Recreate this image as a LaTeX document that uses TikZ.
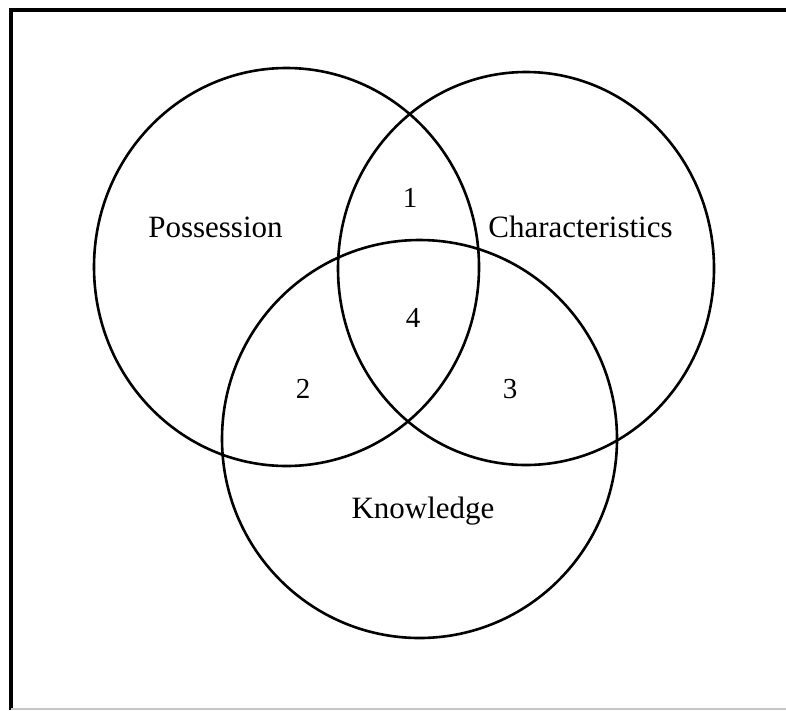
\documentclass[tikz,border=0pt]{standalone}
\usepackage{fontspec}
\setmainfont{Liberation Serif}
\usetikzlibrary{calc}
\newcommand\vset[5]{
  \draw[line width=2.6pt] (#1,#2) ellipse [x radius=#3pt, y radius=#4pt];
  \coordinate (#5) at (#1,#2);
}
\tikzset{
  lbl/.style={font=\fontsize{31}{36}\selectfont, anchor=base, inner sep=0pt},
  num/.style={font=\fontsize{29}{34}\selectfont, anchor=base, inner sep=0pt}
}

\begin{document}
\begin{tikzpicture}[x=1pt,y=-1pt]
\useasboundingbox (0,0) rectangle (786,710);

% frame
\draw[line width=3.2pt] (11,710) -- (11,10) -- (786,10);
\draw[gray!45, line width=2pt] (11,708.5) -- (786,708.5);

\vset{286.5}{267}{192.5}{199}{poss}
\vset{526}{268.5}{188}{196.5}{char}
\vset{419.5}{439}{197.5}{199}{know}

\node[lbl] (possession) at (215.5,237) {Possession};
\node[lbl] (characteristics) at (580.5,237) {Characteristics};
\node[lbl] (knowledge) at (423,518) {Knowledge};

\node[num] (one) at (410,207) {1};
\node[num] (four) at (413,327) {4};
\node[num] (two) at (303,398) {2};
\node[num] (three) at (510,398) {3};

\end{tikzpicture}
\end{document}
